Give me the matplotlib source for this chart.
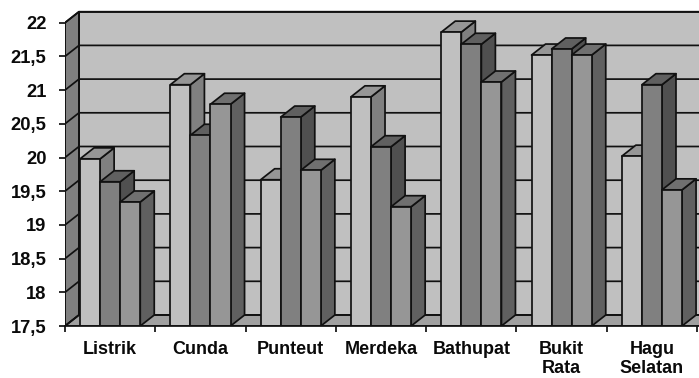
import matplotlib
matplotlib.use("Agg")
import matplotlib.pyplot as plt
from matplotlib.patches import Polygon

plt.rcParams['font.family'] = ['Liberation Sans', 'DejaVu Sans']

categories = ["Listrik", "Cunda", "Punteut", "Merdeka", "Bathupat", "Bukit\nRata", "Hagu\nSelatan"]
series_a = [19.98, 21.08, 19.67, 20.90, 21.86, 21.52, 20.02]
series_b = [19.64, 20.33, 20.60, 20.16, 21.68, 21.61, 21.08]
series_c = [19.34, 20.79, 19.81, 19.27, 21.12, 21.52, 19.52]
y_ticks = [17.5, 18, 18.5, 19, 19.5, 20, 20.5, 21, 21.5, 22]
y_tick_labels = ["17,5", "18", "18,5", "19", "19,5", "20", "20,5", "21", "21,5", "22"]

W, H = 699, 378
LEFT, BASE = 65, 326          # pixel position of the front axis corner
CAT_PX = 90.3                 # pixels per category
UNIT_PX = 67.4                # pixels per y unit
DX = 14 / CAT_PX              # depth offset along x, in category units
DY = 11 / UNIT_PX             # depth offset along y, in value units
BAR_W = 1 / 4.5               # bar width within a category
GAP = (1 - 3 * BAR_W) / 2
LW = 1.25
EDGE = "#111111"

# (front, top, side) shades of each series
shades = [("#c0c0c0", "#969696", "#808080"),
          ("#808080", "#606060", "#505050"),
          ("#969696", "#707070", "#606060")]

fig = plt.figure(figsize=(W / 100, H / 100), dpi=100, facecolor="white")
ax = fig.add_axes([LEFT / W, (H - BASE) / H, (W - LEFT) / W, BASE / H])
n = len(categories)
ax.set_xlim(0, (W - LEFT) / CAT_PX)
y0 = y_ticks[0]
ax.set_ylim(y0, y0 + BASE / UNIT_PX)
for s in ax.spines.values():
    s.set_visible(False)
ax.patch.set_visible(False)


def face(points, color, z):
    ax.add_patch(Polygon(points, closed=True, facecolor=color, edgecolor=EDGE,
                         linewidth=LW, joinstyle="round", zorder=z, clip_on=True))


x_end = n + 0.3
top = y_ticks[-1]

# back wall, side wall and floor
face([(DX, y0 + DY), (x_end, y0 + DY), (x_end, top + DY), (DX, top + DY)], "#c0c0c0", 1)
face([(0, y0), (DX, y0 + DY), (DX, top + DY), (0, top)], "#808080", 1)
face([(0, y0), (x_end, y0), (x_end, y0 + DY), (DX, y0 + DY)], "#a0a0a0", 1)

# horizontal gridlines on the walls
for v in y_ticks:
    ax.plot([0, DX, x_end], [v, v + DY, v + DY], color=EDGE, lw=LW, zorder=2,
            solid_joinstyle="round")
ax.plot([0, 0], [y0, top], color=EDGE, lw=LW, zorder=2)
ax.plot([DX, DX], [y0 + DY, top + DY], color=EDGE, lw=LW, zorder=2)

# bars, back to front within each group
z = 3
for i in range(n):
    for j, values in enumerate((series_a, series_b, series_c)):
        v = values[i]
        x1 = i + GAP + j * BAR_W
        x2 = x1 + BAR_W
        front, cap, side = shades[j]
        face([(x2, y0), (x2 + DX, y0 + DY), (x2 + DX, v + DY), (x2, v)], side, z)
        face([(x1, v), (x2, v), (x2 + DX, v + DY), (x1 + DX, v + DY)], cap, z)
        face([(x1, y0), (x2, y0), (x2, v), (x1, v)], front, z)
        z += 1

ax.plot([0, x_end], [y0, y0], color=EDGE, lw=LW, zorder=z, clip_on=False)

ax.set_yticks(y_ticks)
ax.set_yticklabels(y_tick_labels, fontsize=13.2, fontweight="bold", color="#0a0a0a")
ax.set_xticks(range(n + 1))
ax.set_xticklabels([])
ax.set_xticks([i + 0.5 for i in range(n)], minor=True)
ax.set_xticklabels(categories, minor=True, fontsize=13, fontweight="bold",
                   color="#0a0a0a", linespacing=1.16)
ax.tick_params(axis="y", length=4, width=LW, pad=9.4, color=EDGE)
ax.tick_params(axis="x", which="major", length=4, width=LW, color=EDGE)
ax.tick_params(axis="x", which="minor", length=0, pad=10.5)

fig.savefig("out.png", dpi=100, facecolor="white")
